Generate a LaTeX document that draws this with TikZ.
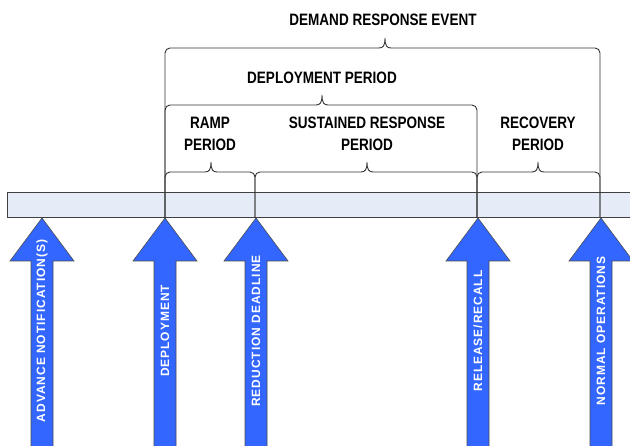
\documentclass[tikz,border=0pt]{standalone}
\usepackage{fontspec}
\setmainfont{Liberation Sans}
\newfontfamily\titlefont[FakeStretch=0.82]{Liberation Sans}
\newfontfamily\labelfont[LetterSpace=8]{Liberation Sans}
\definecolor{arrowblue}{RGB}{51,102,255}
\definecolor{barfill}{RGB}{229,236,247}
\newcommand\drbrace[4]{%
  \draw[bracket] (#1,228) -- (#1,#4-5) arc[start angle=180,end angle=90,radius=5]
    -- (#3-6,#4) .. controls (#3-2,#4) and (#3,#4+2) .. (#3,#4+10)
    .. controls (#3,#4+2) and (#3+2,#4) .. (#3+6,#4)
    -- (#2-5,#4) arc[start angle=90,end angle=0,radius=5] -- (#2,228);}
\newcommand\drarrow[3]{%
  \draw[arrowbody] (#1-11,-6) -- (#1-11,185) -- (#1-32,185) -- (#1,228)
    -- (#1+32,185) -- (#1+11,185) -- (#1+11,-6) -- cycle;
  \node[arrowlabel] (#2) at (#1,115) {#3};}
\begin{document}
\begin{tikzpicture}[x=1pt,y=1pt,
  bar/.style={draw=black!75, fill=barfill, line width=0.9pt},
  arrowbody/.style={draw=black!70, fill=arrowblue, line width=0.6pt},
  arrowlabel/.style={rotate=90, text=white, font=\labelfont\bfseries\fontsize{12}{13}\selectfont, inner sep=0pt},
  bracket/.style={draw=black!80, line width=0.9pt},
  title/.style={font=\titlefont\bfseries\fontsize{16.5}{22.5}\selectfont, align=center, inner sep=0pt}]
\useasboundingbox[fill=white] (0,0) rectangle (630,446);
\node[bar, anchor=south west, minimum width=630pt, minimum height=25pt, inner sep=0pt] (timeline) at (7,228) {};
\drbrace{165}{600}{385}{398}
\drbrace{165}{477}{322}{341}
\drbrace{165}{255}{211}{274}
\drbrace{255}{477}{367}{274}
\drbrace{477}{600}{538}{274}
\node[title] (dre) at (383,426) {DEMAND RESPONSE EVENT};
\node[title] (dep) at (322,368) {DEPLOYMENT PERIOD};
\node[title] (ramp) at (210,312) {RAMP\\PERIOD};
\node[title] (sus) at (367,312) {SUSTAINED RESPONSE\\PERIOD};
\node[title] (rec) at (538,312) {RECOVERY\\PERIOD};
\drarrow{42}{adv}{ADVANCE NOTIFICATION(S)}
\drarrow{165}{depl}{DEPLOYMENT}
\drarrow{256}{red}{REDUCTION DEADLINE}
\drarrow{478}{rel}{RELEASE/RECALL}
\drarrow{601}{norm}{NORMAL OPERATIONS}
\end{tikzpicture}
\end{document}
